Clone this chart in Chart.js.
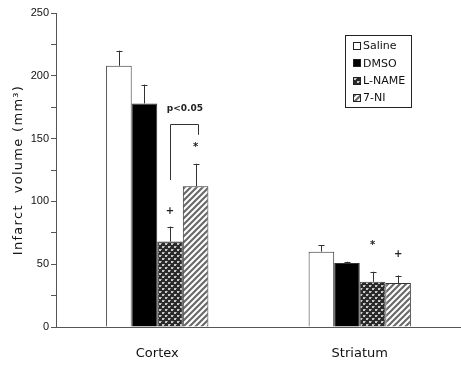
<!DOCTYPE html>
<html>
<head>
<meta charset="utf-8">
<script src="https://cdn.jsdelivr.net/npm/chart.js@4"></script>
<style>
  html, body { margin: 0; padding: 0; background: #fff; }
  #wrap { width: 461px; height: 366px; }
</style>
</head>
<body>
<div id="wrap"><canvas id="myChart" width="461" height="366"></canvas></div>
<script>
  const regions = ['Cortex', 'Striatum'];
  const groups = ['Saline', 'DMSO', 'L-NAME', '7-NI'];
  const saline = [208, 60];
  const dmso = [178, 51];
  const lname = [68, 36];
  const sevenNI = [112, 35];
  // upper end of the error bars
  const salineErr = [220, 65];
  const dmsoErr = [193, 52];
  const lnameErr = [80, 44];
  const sevenNIErr = [130, 41];
  const yTicks = [0, 50, 100, 150, 200, 250];
  const yTitle = 'Infarct  volume (mm\u00B3)';

  // significance marks: [group, region, value at which the mark sits, text]
  const marks = [
    [2, 0, 92, '+'],
    [3, 0, 143, '*'],
    [2, 1, 65, '*'],
    [3, 1, 58, '+']
  ];
  // bracket between L-NAME and 7-NI in Cortex
  const bracket = { region: 0, from: 2, to: 3, leftLow: 117, rightLow: 153, top: 162, textAt: 174, text: 'p<0.05' };

  function makeTile(draw) {
    const c = document.createElement('canvas');
    c.width = 6; c.height = 6;
    const g = c.getContext('2d');
    draw(g);
    return g.createPattern(c, 'repeat');
  }

  const ctx = document.getElementById('myChart').getContext('2d');

  const checkPattern = makeTile(g => {
    g.fillStyle = '#2a2a2a';
    g.fillRect(0, 0, 6, 6);
    g.fillStyle = '#c8c8c8';
    g.fillRect(0, 0, 2, 2);
    g.fillRect(3, 3, 2, 2);
    g.fillStyle = '#888';
    g.fillRect(2, 0, 1, 1);
    g.fillRect(5, 3, 1, 1);
  });

  const stripePattern = makeTile(g => {
    g.fillStyle = '#fff';
    g.fillRect(0, 0, 6, 6);
    g.strokeStyle = '#6a6a6a';
    g.lineWidth = 2.2;
    g.beginPath();
    g.moveTo(0, 6); g.lineTo(6, 0);
    g.moveTo(-1, 1); g.lineTo(1, -1);
    g.moveTo(5, 7); g.lineTo(7, 5);
    g.stroke();
  });

  const fills = ['#ffffff', '#000000', checkPattern, stripePattern];
  const errs = [salineErr, dmsoErr, lnameErr, sevenNIErr];

  const errorBars = {
    id: 'errorBars',
    afterDatasetsDraw(chart) {
      const c = chart.ctx;
      const y = chart.scales.y;
      c.save();
      c.strokeStyle = '#333';
      c.lineWidth = 1;
      chart.data.datasets.forEach((ds, di) => {
        chart.getDatasetMeta(di).data.forEach((bar, i) => {
          const top = y.getPixelForValue(errs[di][i]);
          const x = Math.round(bar.x) + 0.5;
          c.beginPath();
          c.moveTo(x, bar.y);
          c.lineTo(x, top);
          c.moveTo(x - 3, Math.round(top) + 0.5);
          c.lineTo(x + 3, Math.round(top) + 0.5);
          c.stroke();
        });
      });

      // significance marks
      c.fillStyle = '#222';
      c.textAlign = 'center';
      c.textBaseline = 'middle';
      c.font = 'bold 10px "DejaVu Sans"';
      marks.forEach(m => {
        const bar = chart.getDatasetMeta(m[0]).data[m[1]];
        c.fillText(m[3], bar.x, y.getPixelForValue(m[2]));
      });

      // bracket
      const b1 = chart.getDatasetMeta(bracket.from).data[bracket.region];
      const b2 = chart.getDatasetMeta(bracket.to).data[bracket.region];
      const xl = Math.round(b1.x) + 0.5, xr = Math.round(b2.x) + 2.5;
      const yt = Math.round(y.getPixelForValue(bracket.top)) + 0.5;
      c.beginPath();
      c.moveTo(xl, y.getPixelForValue(bracket.leftLow));
      c.lineTo(xl, yt);
      c.lineTo(xr, yt);
      c.lineTo(xr, y.getPixelForValue(bracket.rightLow));
      c.stroke();
      c.font = 'bold 9px "DejaVu Sans"';
      c.fillText(bracket.text, (b1.x + b2.x) / 2 + 2, y.getPixelForValue(bracket.textAt));
      c.restore();
    }
  };

  const boxLegend = {
    id: 'boxLegend',
    afterDraw(chart) {
      const c = chart.ctx;
      const left = 345, top = 35, w = 66, h = 72;
      c.save();
      c.strokeStyle = '#222';
      c.lineWidth = 1;
      c.strokeRect(left + 0.5, top + 0.5, w, h);
      c.font = '11px "DejaVu Sans"';
      c.textBaseline = 'middle';
      c.textAlign = 'left';
      chart.data.datasets.forEach((ds, i) => {
        const cy = top + 11 + i * 17.3;
        c.fillStyle = ds.backgroundColor;
        c.fillRect(left + 8, Math.round(cy - 4), 8, 8);
        c.strokeStyle = '#222';
        c.strokeRect(left + 8.5, Math.round(cy - 4) + 0.5, 7, 7);
        c.fillStyle = '#111';
        c.fillText(ds.label, left + 18, cy + 0.5);
      });

      // y axis title, spaced out like the original
      const area = chart.chartArea;
      c.translate(19, (area.top + area.bottom) / 2);
      c.rotate(-Math.PI / 2);
      c.font = '13px "DejaVu Sans"';
      c.letterSpacing = '1.3px';
      c.textAlign = 'center';
      c.fillStyle = '#111';
      c.fillText(yTitle, 0, 0);
      c.restore();
    }
  };

  new Chart(ctx, {
    type: 'bar',
    data: {
      labels: regions,
      datasets: [saline, dmso, lname, sevenNI].map((vals, i) => ({
        label: groups[i],
        data: vals,
        backgroundColor: fills[i],
        borderColor: '#333',
        borderWidth: 1,
        categoryPercentage: 0.505,
        barPercentage: 1
      }))
    },
    options: {
      responsive: false,
      animation: false,
      layout: { padding: { top: 13, right: 0, left: 0, bottom: 0 } },
      plugins: {
        legend: { display: false },
        tooltip: { enabled: false }
      },
      scales: {
        x: {
          grid: { display: false },
          border: { display: true, color: '#555', width: 1 },
          ticks: { color: '#111', padding: 11, font: { family: 'DejaVu Sans', size: 13 } },
          afterFit: s => { s.height = 39; }
        },
        y: {
          min: 0,
          max: 250,
          afterBuildTicks: s => {
            s.ticks = [];
            for (let v = 0; v <= 250; v += 25) s.ticks.push({ value: v });
          },
          ticks: {
            color: '#111',
            padding: 2,
            font: { family: 'Liberation Sans', size: 11 },
            callback: v => yTicks.includes(v) ? String(v) : ''
          },
          grid: { drawOnChartArea: false, drawTicks: true, tickLength: 5, color: '#555' },
          border: { display: true, color: '#555', width: 1 },
          afterFit: s => { s.width = 56; }
        }
      }
    },
    plugins: [errorBars, boxLegend]
  });
</script>
</body>
</html>
